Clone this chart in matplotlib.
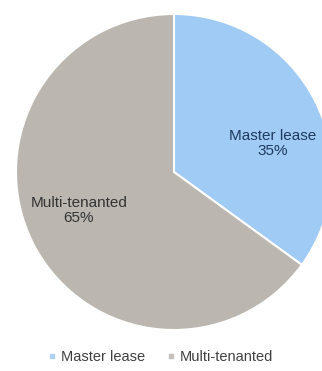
import numpy as np
import matplotlib.pyplot as plt

plt.rcParams['font.family'] = ['Liberation Sans', 'DejaVu Sans']

categories = ['Master lease', 'Multi-tenanted']
shares = [35, 65]
colors = ['#9fcbf5', '#bbb6b0']
label_colors = ['#1f3a5f', '#333333']

fig = plt.figure(figsize=(3.22, 3.71), dpi=100)
# pie spills past the right edge, so the axes is wider than the figure
ax = fig.add_axes([16 / 322, 41 / 371, 316 / 322, 316 / 371])

wedges, _ = ax.pie(shares, colors=colors, startangle=90, counterclock=False,
                   radius=1.0, wedgeprops=dict(edgecolor='white', linewidth=1.5))
ax.set_xlim(-1, 1)
ax.set_ylim(-1, 1)
ax.set_aspect('equal')
ax.axis('off')

# in-slice labels, pulled a little toward the horizontal
label_shift = [-11, -5]
for w, name, val, c, shift in zip(wedges, categories, shares, label_colors, label_shift):
    ang = np.deg2rad((w.theta1 + w.theta2) / 2 + shift)
    r = 0.65
    ax.text(r * np.cos(ang), r * np.sin(ang), f'{name}\n{val}%', ha='center',
            va='center', fontsize=11, color=c, linespacing=1.1)

handles = [plt.Line2D([], [], marker='s', linestyle='', markersize=3.2,
                      markerfacecolor=c, markeredgecolor=c, alpha=0.8) for c in colors]
fig.legend(handles, categories, loc='center', bbox_to_anchor=(160 / 322, 1 - 357 / 371),
           ncol=2, frameon=False, fontsize=10.5, handletextpad=0.2, columnspacing=1.4,
           handlelength=0.8, labelcolor='#404040')

fig.savefig('out.png', dpi=100)
